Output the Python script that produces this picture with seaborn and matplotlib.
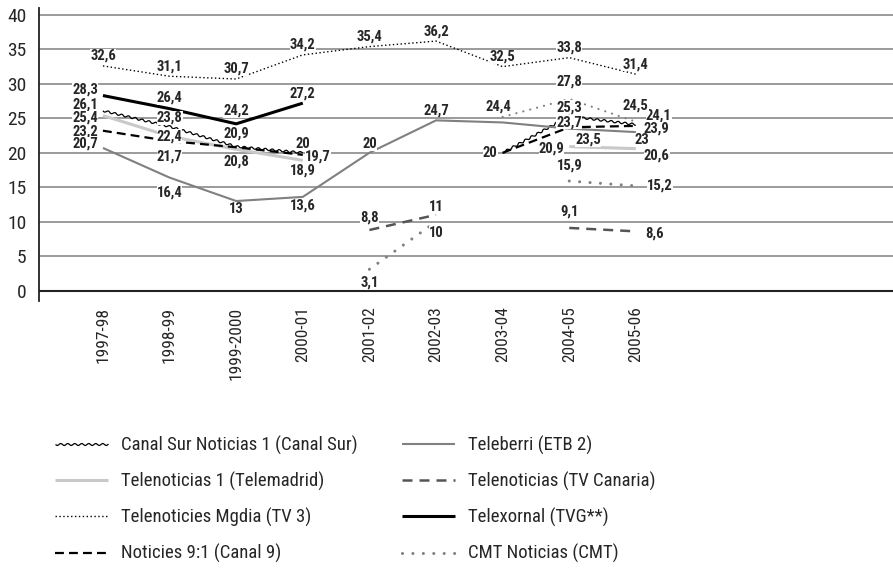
import numpy as np
import pandas as pd
import matplotlib
matplotlib.use('Agg')
import matplotlib.pyplot as plt
import seaborn as sns

seasons = ['1997-98', '1998-99', '1999-2000', '2000-01', '2001-02',
           '2002-03', '2003-04', '2004-05', '2005-06']
nan = np.nan
canal_sur = [26.1, 23.8, 20.9, 20, nan, nan, 20, 25.3, 24.1]
telemadrid = [25.4, 22.4, 20.5, 18.9, nan, nan, nan, 20.9, 20.6]
tv3 = [32.6, 31.1, 30.7, 34.2, 35.4, 36.2, 32.5, 33.8, 31.4]
canal9 = [23.2, 21.7, 20.8, 19.7, nan, nan, 20, 23.7, 23.9]
etb2 = [20.7, 16.4, 13, 13.6, 20, 24.7, 24.4, 23.5, 23]
tv_canaria = [nan, nan, nan, nan, 8.8, 11, nan, 9.1, 8.6]
tvg = [28.3, 26.4, 24.2, 27.2, nan, nan, nan, nan, nan]
cmt = [nan, nan, nan, nan, 3.1, 10, nan, 15.9, 15.2]
cmt_b = [nan, nan, nan, nan, nan, nan, 25.2, 27.8, 24.5]

names = ['Canal Sur Noticias 1 (Canal Sur)', 'Telenoticias 1 (Telemadrid)',
         'Telenoticies Mgdia (TV 3)', 'Noticies 9:1 (Canal 9)',
         'Teleberri (ETB 2)', 'Telenoticias (TV Canaria)',
         'Telexornal (TVG**)', 'CMT Noticias (CMT)', '_cmt_b']
series = [canal_sur, telemadrid, tv3, canal9, etb2, tv_canaria, tvg, cmt, cmt_b]

# line styles
styles = [
    dict(color='black', lw=0.9),
    dict(color='#c9c9c9', lw=2.2),
    dict(color='black', lw=1.0, ls=(0, (1, 1.8))),
    dict(color='black', lw=1.6, ls=(0, (4, 2.3))),
    dict(color='#808080', lw=1.5),
    dict(color='#555555', lw=1.8, ls=(0, (4, 2.8))),
    dict(color='black', lw=2.2),
    dict(color='#808080', lw=2.2, ls=(0, (0.01, 3.4)), dash_capstyle='round'),
    dict(color='#808080', lw=1.6, ls=(0, (0.01, 3.2)), dash_capstyle='round'),
]

# label offsets in pixels (dx, dy, ha); None = no label
L = lambda dy=2: (-5, dy, 'right')
R = lambda dx=8, dy=0: (dx, dy, 'left')
C = lambda dy, dx=0: (dx, dy, 'center')
label_pos = [
    [L(6), C(9), C(13), C(9), None, None, L(0), C(9), R(10, 9)],
    [L(-2), C(0), None, C(-10), None, None, None, L(-2), R(8, -7)],
    [C(10)] * 9,
    [L(-1), C(-15), C(-14), R(2, -2), None, None, None, C(5), R(8, -3)],
    [L(4), C(-15), C(-8), C(-9), C(9), C(10), C(16, -4), C(-11, 19), C(-8, 6)],
    [None] * 4 + [C(12), C(8), None, C(16), R(9, -2)],
    [L(6), C(11), C(13), C(10)] + [None] * 5,
    [None] * 4 + [C(-13), C(-11), None, C(16), R(11, 0)],
    [None] * 7 + [C(17), C(16)],
]

sns.set_style('white')
plt.rcParams['font.family'] = ['Roboto Condensed', 'DejaVu Sans']
plt.rcParams['font.stretch'] = 'condensed'

fig = plt.figure(figsize=(8.93, 5.70), dpi=100)
ax = fig.add_axes([39 / 893, 1 - 301 / 570, 1 - 39 / 893, 293 / 570])

handles = []
for name, vals, st in zip(names, series, styles):
    d = pd.DataFrame({'x': np.arange(len(seasons)), 'value': vals})
    d['seg'] = d['value'].isna().cumsum()
    d = d.dropna()
    n0 = len(ax.lines)
    sns.lineplot(data=d, x='x', y='value', units='seg', estimator=None,
                 sort=False, legend=False, ax=ax, zorder=3, **st)
    new = ax.lines[n0:]
    for ln in new:
        ln.set_solid_capstyle('butt')
        if name.startswith('Canal Sur'):
            ln.set_sketch_params(1.0, 7, 1)
    new[0].set_label(name)
    if not name.startswith('_'):
        handles.append(new[0])

for vals, pos in zip(series, label_pos):
    for i, (v, p) in enumerate(zip(vals, pos)):
        if p is None or np.isnan(v):
            continue
        txt = f'{v:g}'.replace('.', ',')
        ax.annotate(txt, (i, v), xytext=(p[0], p[1]), textcoords='offset pixels',
                    ha=p[2], va='center', fontsize=10.5, fontweight='bold', zorder=5,
                    bbox=dict(boxstyle='square,pad=0.0', fc='white', ec='none'))

ax.set_xlim(-0.96, 11.86)
ax.set_ylim(-1.5, 41)
ax.set_yticks(range(0, 41, 5))
ax.set_xticks(range(len(seasons)))
ax.set_xticklabels(seasons, rotation=90, va='top')
ax.tick_params(axis='x', length=0, pad=4, labelsize=12.5)
ax.tick_params(axis='y', length=7, width=1, color='#333333', pad=2, labelsize=14)
for yv in range(5, 41, 5):
    ax.axhline(yv, color='#8a8a8a', lw=1.2, zorder=1)
ax.axhline(0, color='#222222', lw=1.5, zorder=2)
ax.set_xlabel('')
ax.set_ylabel('')
for s in ['top', 'right', 'bottom']:
    ax.spines[s].set_visible(False)
ax.spines['left'].set_color('#222222')
ax.spines['left'].set_linewidth(1.3)

fig.legend(handles=handles, labels=[h.get_label() for h in handles], ncol=2,
           loc='upper left', bbox_to_anchor=(55 / 893, 1 - 436 / 570),
           frameon=False, fontsize=13.5, handlelength=2.8, handletextpad=0.7,
           columnspacing=2.4, labelspacing=0.9, borderpad=0, borderaxespad=0)

fig.savefig('out.png', dpi=100)
